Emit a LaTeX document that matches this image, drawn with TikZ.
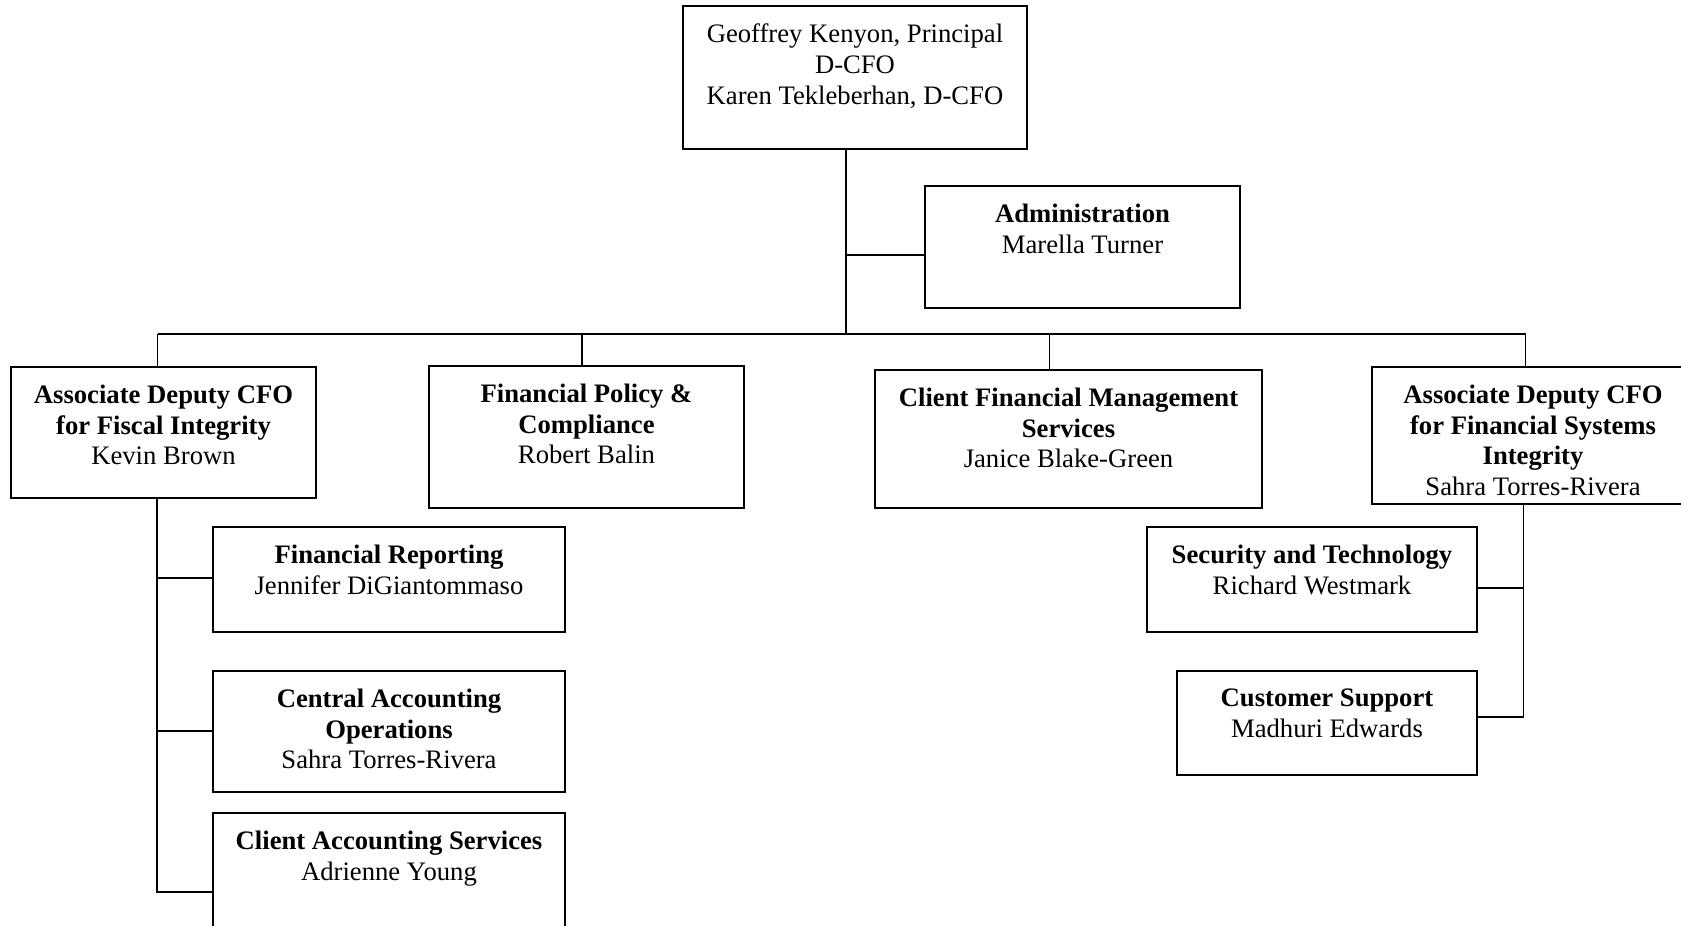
\documentclass[tikz,border=0pt]{standalone}
\usepackage{fontspec}
\setmainfont{Liberation Serif}
\begin{document}
\begin{tikzpicture}[x=0.45pt,y=-0.45pt,
  box/.style={draw, line width=0.9pt, inner sep=0pt, outer sep=0pt},
  txt/.style={font=\fontsize{12}{13.8}\selectfont, align=center, inner sep=0pt, anchor=north},
  wire/.style={line width=0.8pt}]
% page frame
\fill[white] (0,0) rectangle (1681,926);
\useasboundingbox (0,0) rectangle (1681,926);
\clip (0,0) rectangle (1681,926);

% boxes
\node[box, minimum width=344*0.45pt, minimum height=143*0.45pt] (top) at (855,77.5) {};
\node[box, minimum width=315*0.45pt, minimum height=122*0.45pt] (adm) at (1082.5,247) {};
\node[box, minimum width=305*0.45pt, minimum height=131*0.45pt] (adfi) at (163.5,432.5) {};
\node[box, minimum width=315*0.45pt, minimum height=142*0.45pt] (fpc) at (586.5,437) {};
\node[box, minimum width=387*0.45pt, minimum height=138*0.45pt] (cfms) at (1068.5,439) {};
\node[box, minimum width=322*0.45pt, minimum height=137*0.45pt] (adfsi) at (1533,435.5) {};
\node[box, minimum width=352*0.45pt, minimum height=105*0.45pt] (fr) at (389,579.5) {};
\node[box, minimum width=352*0.45pt, minimum height=121*0.45pt] (cao) at (389,731.5) {};
\node[box, minimum width=352*0.45pt, minimum height=127*0.45pt] (cas) at (389,876.5) {};
\node[box, minimum width=330*0.45pt, minimum height=105*0.45pt] (st) at (1312,579.5) {};
\node[box, minimum width=300*0.45pt, minimum height=104*0.45pt] (cs) at (1327,723) {};

% box texts
\node[txt] (top-t) at ([yshift=-7.9pt]top.north) {Geoffrey Kenyon, Principal\\D-CFO\\Karen Tekleberhan, D-CFO};
\node[txt] (adm-t) at ([yshift=-7.9pt]adm.north) {\textbf{Administration}\\Marella Turner};
\node[txt] (adfi-t) at ([yshift=-7.9pt]adfi.north) {\textbf{Associate Deputy CFO}\\\textbf{for Fiscal Integrity}\\Kevin Brown};
\node[txt] (fpc-t) at ([yshift=-7.9pt]fpc.north) {\textbf{Financial Policy \&}\\\textbf{Compliance}\\Robert Balin};
\node[txt] (cfms-t) at ([yshift=-7.9pt]cfms.north) {\textbf{Client Financial Management}\\\textbf{Services}\\Janice Blake-Green};
\node[txt] (adfsi-t) at ([yshift=-7.9pt]adfsi.north) {\textbf{Associate Deputy CFO}\\\textbf{for Financial Systems}\\\textbf{Integrity}\\Sahra Torres-Rivera};
\node[txt] (fr-t) at ([yshift=-7.9pt]fr.north) {\textbf{Financial Reporting}\\Jennifer DiGiantommaso};
\node[txt] (cao-t) at ([yshift=-7.9pt]cao.north) {\textbf{Central Accounting}\\\textbf{Operations}\\Sahra Torres-Rivera};
\node[txt] (cas-t) at ([yshift=-7.9pt]cas.north) {\textbf{Client Accounting Services}\\Adrienne Young};
\node[txt] (st-t) at ([yshift=-7.9pt]st.north) {\textbf{Security and Technology}\\Richard Westmark};
\node[txt] (cs-t) at ([yshift=-7.9pt]cs.north) {\textbf{Customer Support}\\Madhuri Edwards};

% junction points
\coordinate (tk) at (846,333.7);
\coordinate (admJ) at (846,255);
\coordinate (busL) at (157.5,333.7);
\coordinate (busR) at (1525.5,333.7);
\coordinate (dFPC) at (582,333.7);
\coordinate (dCFMS) at (1049.5,333.7);
\coordinate (lEnd) at (157,892);
\coordinate (lJ1) at (157,577.7);
\coordinate (lJ2) at (157,731);
\coordinate (rEnd) at (1523.5,717);
\coordinate (rJ1) at (1523.5,587.7);

% connectors
\draw[wire] (tk |- top.south) -- (tk);
\draw[wire] (admJ) -- (admJ -| adm.west);
\draw[wire] (busL) -- (busR);
\draw[wire] (busL) -- (busL |- adfi.north);
\draw[wire] (dFPC) -- (dFPC |- fpc.north);
\draw[wire] (dCFMS) -- (dCFMS |- cfms.north);
\draw[wire] (busR) -- (busR |- adfsi.north);
\draw[wire] (lEnd |- adfi.south) -- (lEnd) -- (lEnd -| cas.west);
\draw[wire] (lJ1) -- (lJ1 -| fr.west);
\draw[wire] (lJ2) -- (lJ2 -| cao.west);
\draw[wire] (rEnd |- adfsi.south) -- (rEnd) -- (rEnd -| cs.east);
\draw[wire] (rJ1) -- (rJ1 -| st.east);
\end{tikzpicture}
\end{document}
